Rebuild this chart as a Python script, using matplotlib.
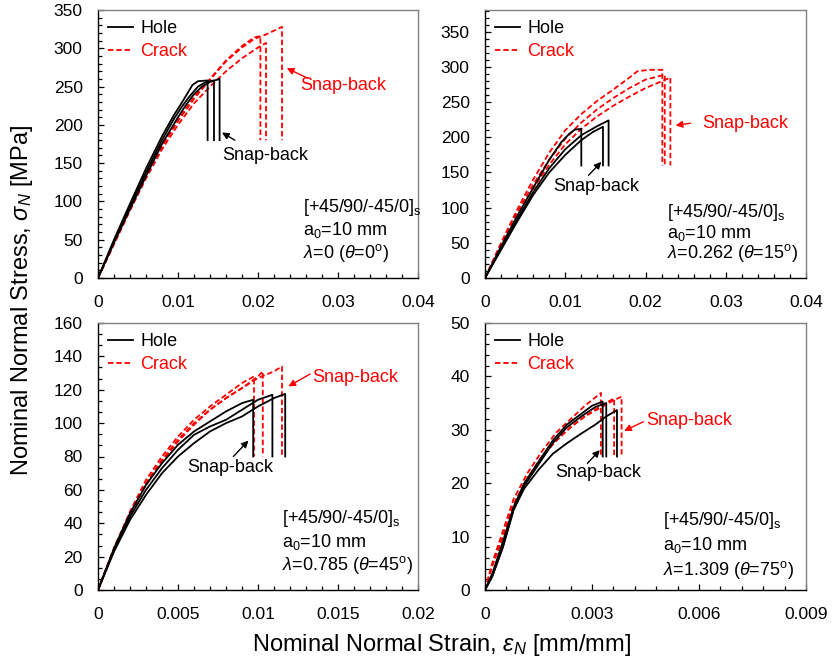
import matplotlib
matplotlib.use("Agg")
import matplotlib.pyplot as plt
from matplotlib.lines import Line2D
from matplotlib.ticker import MultipleLocator

plt.rcParams['font.family'] = ['Liberation Sans', 'DejaVu Sans']
plt.rcParams['mathtext.fontset'] = 'custom'
plt.rcParams['mathtext.rm'] = 'Liberation Sans'
plt.rcParams['mathtext.it'] = 'Liberation Sans:italic'
plt.rcParams['mathtext.bf'] = 'Liberation Sans:bold'

# ---------------- theta = 0 deg ----------------
p0_hole_strain = [
    [0, 0.002, 0.004, 0.006, 0.008, 0.0095, 0.0103, 0.011, 0.0118, 0.0125, 0.0137],
    [0, 0.002, 0.004, 0.006, 0.008, 0.0095, 0.0105, 0.0115, 0.0125, 0.0135, 0.0145],
    [0, 0.002, 0.004, 0.006, 0.008, 0.010, 0.011, 0.012, 0.013, 0.014, 0.0152],
]
p0_hole_stress = [
    [0, 50, 97, 143, 185, 213, 226, 238, 252, 257, 258],
    [0, 48, 94, 138, 180, 208, 224, 238, 250, 256, 258],
    [0, 46, 90, 133, 175, 210, 226, 240, 250, 256, 260],
]
p0_crack_strain = [
    [0, 0.002, 0.004, 0.006, 0.008, 0.010, 0.012, 0.014, 0.016, 0.018, 0.0195, 0.0203],
    [0, 0.002, 0.004, 0.006, 0.008, 0.010, 0.012, 0.014, 0.016, 0.018, 0.020, 0.0210],
    [0, 0.002, 0.004, 0.006, 0.008, 0.010, 0.012, 0.014, 0.016, 0.018, 0.0195, 0.021, 0.0230],
]
p0_crack_stress = [
    [0, 46, 92, 136, 175, 208, 236, 260, 284, 303, 314, 316],
    [0, 44, 88, 130, 168, 200, 228, 250, 270, 287, 301, 307],
    [0, 45, 90, 133, 172, 205, 234, 259, 283, 301, 312, 318, 328],
]
p0_drop = 180

# ---------------- theta = 15 deg ----------------
p15_hole_strain = [
    [0, 0.002, 0.004, 0.006, 0.008, 0.0095, 0.0105, 0.0112, 0.0120],
    [0, 0.002, 0.004, 0.006, 0.008, 0.010, 0.012, 0.0135, 0.0147],
    [0, 0.002, 0.004, 0.006, 0.008, 0.010, 0.012, 0.014, 0.0154],
]
p15_hole_stress = [
    [0, 45, 88, 128, 168, 193, 205, 211, 212],
    [0, 40, 80, 118, 150, 175, 196, 208, 215],
    [0, 42, 83, 122, 156, 183, 203, 216, 224],
]
p15_crack_strain = [
    [0, 0.002, 0.004, 0.006, 0.008, 0.010, 0.012, 0.014, 0.016, 0.018, 0.019, 0.0205, 0.0221],
    [0, 0.002, 0.004, 0.006, 0.008, 0.010, 0.012, 0.014, 0.016, 0.018, 0.020, 0.0224],
    [0, 0.002, 0.004, 0.006, 0.008, 0.010, 0.012, 0.014, 0.016, 0.018, 0.020, 0.0231],
]
p15_crack_stress = [
    [0, 50, 97, 140, 178, 210, 233, 252, 268, 285, 294, 296, 296],
    [0, 48, 93, 133, 168, 198, 221, 240, 256, 270, 282, 289],
    [0, 45, 88, 127, 161, 190, 212, 230, 245, 258, 270, 285],
]
p15_drop = 160

# ---------------- theta = 45 deg ----------------
p45_hole_strain = [
    [0, 0.001, 0.002, 0.003, 0.004, 0.005, 0.006, 0.007, 0.008, 0.009, 0.0097],
    [0, 0.001, 0.002, 0.003, 0.004, 0.005, 0.006, 0.007, 0.008, 0.009, 0.010, 0.0109],
    [0, 0.001, 0.002, 0.003, 0.004, 0.005, 0.006, 0.007, 0.008, 0.009, 0.010, 0.011, 0.0117],
]
p45_hole_stress = [
    [0, 25, 46, 63, 76, 87, 95, 101, 107, 112, 114],
    [0, 24, 44, 60, 73, 84, 93, 98, 102, 108, 114, 117],
    [0, 23, 42, 57, 70, 80, 88, 95, 100, 104, 110, 115, 117.5],
]
p45_crack_strain = [
    [0, 0.001, 0.002, 0.003, 0.004, 0.005, 0.006, 0.007, 0.008, 0.009, 0.00975],
    [0, 0.001, 0.002, 0.003, 0.004, 0.005, 0.006, 0.007, 0.008, 0.009, 0.010, 0.0103],
    [0, 0.001, 0.002, 0.003, 0.004, 0.005, 0.006, 0.007, 0.008, 0.009, 0.010, 0.011, 0.0115],
]
p45_crack_stress = [
    [0, 25, 47, 66, 80, 92, 102, 110, 117, 124, 128],
    [0, 25, 46, 64, 78, 90, 100, 108, 115, 121, 128, 131],
    [0, 24, 45, 63, 77, 89, 99, 108, 115, 121, 127, 131, 134],
]
p45_drop = 80

# ---------------- theta = 75 deg ----------------
p75_hole_strain = [
    [0, 0.0002, 0.0005, 0.0008, 0.0011, 0.0015, 0.0019, 0.0023, 0.0027, 0.0030, 0.0033],
    [0, 0.0002, 0.0005, 0.0008, 0.0011, 0.0015, 0.0019, 0.0023, 0.0027, 0.0031, 0.0034],
    [0, 0.0002, 0.0005, 0.0008, 0.0011, 0.0015, 0.0019, 0.0023, 0.0027, 0.0031, 0.0034, 0.0037],
]
p75_hole_stress = [
    [0, 3, 9, 15.5, 20, 24, 28, 31, 33, 34.5, 35.3],
    [0, 2.5, 8, 15, 19.5, 23.5, 27.5, 30.5, 32.5, 34.3, 35],
    [0, 2.5, 8, 15, 19, 22.5, 25.5, 27.5, 29.3, 31, 32.5, 33.7],
]
p75_crack_strain = [
    [0, 0.0002, 0.0005, 0.0008, 0.0012, 0.0016, 0.0020, 0.0024, 0.0028, 0.00325],
    [0, 0.0002, 0.0005, 0.0008, 0.0012, 0.0016, 0.0020, 0.0024, 0.0028, 0.0032, 0.00362],
    [0, 0.0002, 0.0005, 0.0008, 0.0012, 0.0016, 0.0020, 0.0024, 0.0028, 0.0032, 0.0036, 0.00383],
]
p75_crack_stress = [
    [0, 5, 11, 17, 22, 26, 29.5, 32, 34.5, 36.9],
    [0, 4.5, 10, 16, 21, 25, 28, 30.5, 32.5, 34.3, 35.9],
    [0, 4.5, 10, 16, 21, 25, 28, 30.5, 32.5, 34, 35.5, 36.2],
]
p75_drop = 25

# axis ticks
p0_xticks = [0, 0.01, 0.02, 0.03, 0.04]
p0_xlabels = ['0', '0.01', '0.02', '0.03', '0.04']
p0_yticks = [0, 50, 100, 150, 200, 250, 300, 350]
p15_yticks = [0, 50, 100, 150, 200, 250, 300, 350]
p45_xticks = [0, 0.005, 0.01, 0.015, 0.02]
p45_xlabels = ['0', '0.005', '0.01', '0.015', '0.02']
p45_yticks = [0, 20, 40, 60, 80, 100, 120, 140, 160]
p75_xticks = [0, 0.003, 0.006, 0.009]
p75_xlabels = ['0', '0.003', '0.006', '0.009']
p75_yticks = [0, 10, 20, 30, 40, 50]

layup = '[+45/90/-45/0]$_\\mathrm{s}$'
notch = 'a$_\\mathrm{0}$=10 mm'
p0_angle = '$\\lambda$=0 ($\\theta$=0$^\\mathrm{o}$)'
p15_angle = '$\\lambda$=0.262 ($\\theta$=15$^\\mathrm{o}$)'
p45_angle = '$\\lambda$=0.785 ($\\theta$=45$^\\mathrm{o}$)'
p75_angle = '$\\lambda$=1.309 ($\\theta$=75$^\\mathrm{o}$)'

FS = 13
RED = '#ff0000'

fig = plt.figure(figsize=(8.32, 6.68), dpi=100)
W, H = 832, 668


def add_axes(l, r, t, b):
    return fig.add_axes([l / W, 1 - b / H, (r - l) / W, (b - t) / H])


def style(ax, xlim, ylim, xticks, xlabels, yticks, xminor, yminor):
    ax.set_xlim(*xlim)
    ax.set_ylim(*ylim)
    ax.set_xticks(xticks)
    ax.set_xticklabels(xlabels)
    ax.set_yticks(yticks)
    ax.set_yticklabels([str(v) for v in yticks])
    ax.xaxis.set_minor_locator(MultipleLocator(xminor))
    ax.yaxis.set_minor_locator(MultipleLocator(yminor))
    ax.tick_params(which='both', direction='in', labelsize=12.5, top=False, right=False,
                   width=0.9, color='black')
    ax.tick_params(which='major', length=4.5)
    ax.tick_params(axis='x', which='major', pad=12)
    ax.tick_params(axis='y', which='major', pad=11)
    ax.tick_params(which='minor', length=3)
    for s in ('left', 'bottom'):
        ax.spines[s].set_color('black')
        ax.spines[s].set_linewidth(1.0)
    for s in ('top', 'right'):
        ax.spines[s].set_color('#808080')
        ax.spines[s].set_linewidth(1.0)


def draw(ax, hs, hy, cs, cy, drop):
    for x, y in zip(cs, cy):
        ax.plot(x + [x[-1]], y + [drop], color=RED, lw=1.3, dashes=(3, 1.6), zorder=2)
    for x, y in zip(hs, hy):
        ax.plot(x + [x[-1]], y + [drop], color='black', lw=1.3, zorder=3)
    handles = [Line2D([], [], color='black', lw=1.3),
               Line2D([], [], color=RED, lw=1.3, dashes=(3, 1.6))]
    leg = ax.legend(handles, ['Hole', 'Crack'], loc='upper left', frameon=False,
                    fontsize=FS, handlelength=1.4, handletextpad=0.4,
                    labelspacing=0.35, borderaxespad=0.3, borderpad=0.25)
    leg.get_texts()[1].set_color(RED)


def info(ax, x, ys, angle):
    for y, s in zip(ys, [layup, notch, angle]):
        ax.text(x, y, s, transform=ax.transAxes, fontsize=FS, va='center', ha='left')


def snap(ax, text_xy, tail, head, color):
    ax.annotate('', xy=head, xytext=tail,
                arrowprops=dict(arrowstyle='-|>', color=color, lw=1.0,
                                mutation_scale=10, shrinkA=0, shrinkB=0))
    ax.text(text_xy[0], text_xy[1], 'Snap-back', color=color, fontsize=FS,
            ha='center', va='center')


# theta = 0
ax = add_axes(98, 418, 10, 278)
style(ax, (0, 0.04), (0, 350), p0_xticks, p0_xlabels, p0_yticks, 0.002, 10)
draw(ax, p0_hole_strain, p0_hole_stress, p0_crack_strain, p0_crack_stress, p0_drop)
info(ax, 0.642, [0.262, 0.178, 0.093], p0_angle)
snap(ax, (0.0209, 160), (0.0171, 180), (0.0155, 190), 'black')
snap(ax, (0.0306, 252), (0.0262, 261), (0.0236, 274), RED)

# theta = 15
ax = add_axes(485, 806, 10, 278)
style(ax, (0, 0.04), (0, 381), p0_xticks, p0_xlabels, p15_yticks, 0.002, 10)
draw(ax, p15_hole_strain, p15_hole_stress, p15_crack_strain, p15_crack_stress, p15_drop)
info(ax, 0.566, [0.244, 0.167, 0.092], p15_angle)
snap(ax, (0.0139, 130), (0.0129, 146), (0.0145, 165), 'black')
snap(ax, (0.0324, 220), (0.0256, 220), (0.02375, 217), RED)

# theta = 45
ax = add_axes(98, 418, 323, 590)
style(ax, (0, 0.02), (0, 160), p45_xticks, p45_xlabels, p45_yticks, 0.001, 20 / 3)
draw(ax, p45_hole_strain, p45_hole_stress, p45_crack_strain, p45_crack_stress, p45_drop)
info(ax, 0.574, [0.268, 0.181, 0.094], p45_angle)
snap(ax, (0.00825, 73.3), (0.00846, 80), (0.0094, 89.5), 'black')
snap(ax, (0.0161, 127.6), (0.01325, 129.4), (0.0119, 122), RED)

# theta = 75
ax = add_axes(485, 806, 323, 590)
style(ax, (0, 0.009), (0, 50), p75_xticks, p75_xlabels, p75_yticks, 0.0006, 2)
draw(ax, p75_hole_strain, p75_hole_stress, p75_crack_strain, p75_crack_stress, p75_drop)
info(ax, 0.556, [0.262, 0.169, 0.075], p75_angle)
snap(ax, (0.00317, 22), (0.00287, 23.7), (0.00322, 26.2), 'black')
snap(ax, (0.00572, 31.8), (0.00444, 31.5), (0.0039, 29.8), RED)

fig.text(22 / W, 1 - 300 / H, 'Nominal Normal Stress, $\\sigma_N$ [MPa]',
         rotation=90, fontsize=17, ha='center', va='center')
fig.text(442 / W, 1 - 645 / H, 'Nominal Normal Strain, $\\varepsilon_N$ [mm/mm]',
         fontsize=17, ha='center', va='center')

fig.savefig('out.png', dpi=100)
